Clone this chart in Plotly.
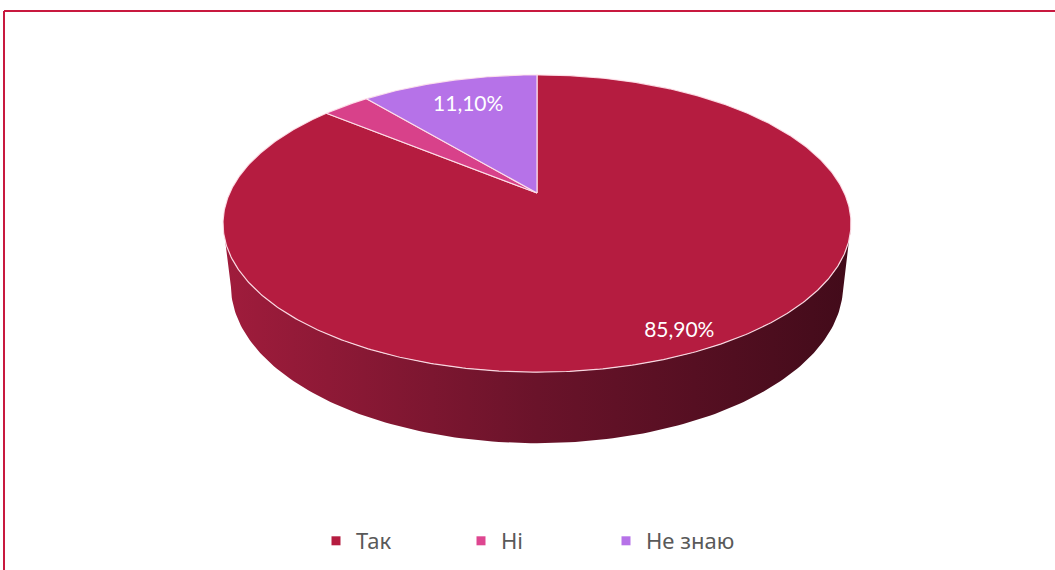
import math
import plotly.graph_objects as go

# ---- data ----
categories = ["Так", "Ні", "Не знаю"]
values = [85.9, 3.0, 11.1]
show_label = [True, False, True]

# ---- style ----
top_colors = ["#B51C40", "#D8418A", "#B672E8"]
legend_colors = ["#B51C40", "#DE4690", "#B672E8"]
wall_scale = [[0.0, "rgb(160,28,60)"], [0.5, "rgb(106,19,42)"], [1.0, "rgb(66,11,26)"]]
label_radius = [0.9, 0.8, 0.75]

# ---- 3D view parameters (screen px) ----
W, H = 1055, 570
CX, CY = 537.0, 193.0
SCALE = 307.3
TILT = math.radians(27.6)
DIST = 4.316
DEPTH = 0.23


def project(theta_deg, r=1.0, h=0.0):
    t = math.radians(theta_deg)
    X = r * math.sin(t)
    Z = r * math.cos(t)
    yp = h * math.cos(TILT) + Z * math.sin(TILT)
    zp = -h * math.sin(TILT) + Z * math.cos(TILT)
    k = 1.0 + zp / DIST
    return CX + SCALE * X / k, CY - SCALE * yp / k


total = sum(values)
bounds = [0.0]
for v in values:
    bounds.append(bounds[-1] + 360.0 * v / total)

fig = go.Figure()

# side wall (visible front part), silhouette at widest angles
c = -math.cos(TILT) / DIST
a_right = math.degrees(math.acos(c))
a_left = 360 - a_right
n = 160
top_edge = [project(a_right + (a_left - a_right) * i / n) for i in range(n + 1)]
bot_edge = [project(a_left - (a_left - a_right) * i / n, h=-DEPTH) for i in range(n + 1)]
poly = top_edge + bot_edge + [top_edge[0]]
fig.add_trace(go.Scatter(
    x=[p[0] for p in poly], y=[p[1] for p in poly], mode="lines",
    line=dict(width=0, color="rgba(0,0,0,0)"), fill="toself",
    fillgradient=dict(type="horizontal", colorscale=wall_scale),
    hoverinfo="skip", showlegend=False))

# top face slices
for i, cat in enumerate(categories):
    a0, a1 = bounds[i], bounds[i + 1]
    m = max(4, int((a1 - a0) * 2))
    pts = [project(0, r=0)] + [project(a0 + (a1 - a0) * j / m) for j in range(m + 1)] + [project(0, r=0)]
    fig.add_trace(go.Scatter(
        x=[p[0] for p in pts], y=[p[1] for p in pts], mode="lines",
        line=dict(width=1.2, color="rgba(255,228,236,0.9)"), fill="toself",
        fillcolor=top_colors[i], hoverinfo="text",
        text=f"{cat}: {values[i]:.2f}%".replace(".", ","), showlegend=False))

# labels
for i, cat in enumerate(categories):
    if not show_label[i]:
        continue
    mid = (bounds[i] + bounds[i + 1]) / 2
    lx, ly = project(mid, r=label_radius[i])
    fig.add_trace(go.Scatter(
        x=[lx], y=[ly], mode="text",
        text=[f"{values[i]:.2f}%".replace(".", ",")],
        textfont=dict(family="Lato", size=21, color="white"),
        hoverinfo="skip", showlegend=False))

# legend entries
for i, cat in enumerate(categories):
    fig.add_trace(go.Scatter(
        x=[None], y=[None], mode="markers", name=cat,
        marker=dict(symbol="square", size=9, color=legend_colors[i]),
        showlegend=True))

fig.update_layout(
    width=W, height=H, autosize=False,
    margin=dict(l=0, r=0, t=0, b=0),
    paper_bgcolor="white", plot_bgcolor="white",
    xaxis=dict(range=[0, W], visible=False, fixedrange=True),
    yaxis=dict(range=[H, 0], visible=False, fixedrange=True),
    legend=dict(orientation="h", x=(316) / W, xanchor="left", y=1 - 541 / H, yanchor="middle",
                font=dict(family="Noto Sans", size=22, color="#595959"),
                entrywidth=100, bgcolor="rgba(0,0,0,0)"),
    shapes=[
        dict(type="line", xref="paper", yref="paper", x0=4 / W, x1=1.01, y0=1 - 11 / H, y1=1 - 11 / H,
             line=dict(color="#C8193F", width=2)),
        dict(type="line", xref="paper", yref="paper", x0=4 / W, x1=4 / W, y0=1 - 11 / H, y1=-0.01,
             line=dict(color="#C8193F", width=2)),
    ],
)

fig.write_html("out.html", config={"displayModeBar": False},
               post_script="document.body.style.margin='0';document.body.style.overflow='hidden';")
